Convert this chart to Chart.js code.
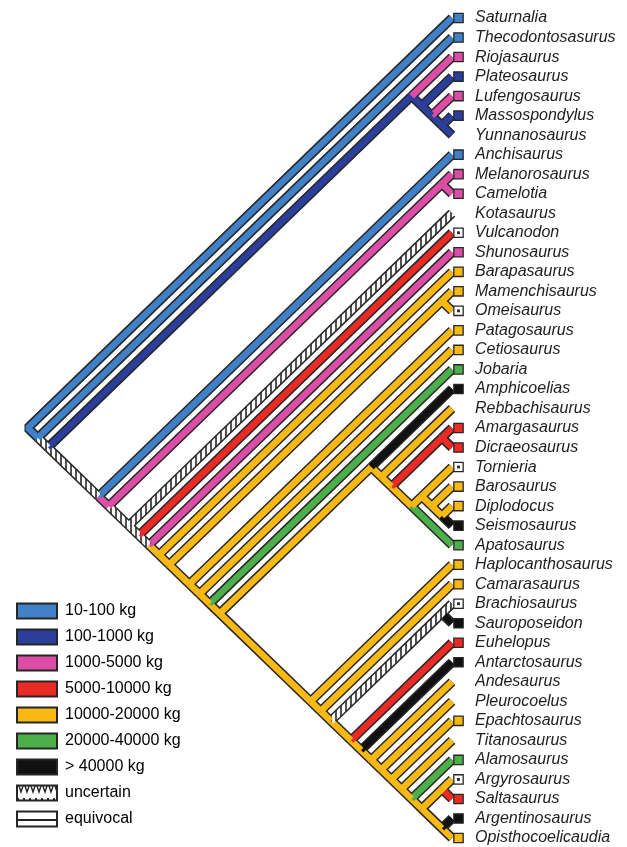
<!DOCTYPE html>
<html lang="en">
<head>
  <meta charset="UTF-8">
  <title>Sauropodomorph body mass</title>
  <script src="https://cdn.jsdelivr.net/npm/chart.js"></script>
  <style>
    html, body { margin: 0; padding: 0; background: #fff; }
    #box { width: 627px; height: 847px; }
  </style>
</head>
<body>
<div id="box"><canvas id="tree"></canvas></div>
<script>
  const taxa = ['Saturnalia', 'Thecodontosasurus', 'Riojasaurus', 'Plateosaurus', 'Lufengosaurus',
    'Massospondylus', 'Yunnanosaurus', 'Anchisaurus', 'Melanorosaurus', 'Camelotia', 'Kotasaurus',
    'Vulcanodon', 'Shunosaurus', 'Barapasaurus', 'Mamenchisaurus', 'Omeisaurus', 'Patagosaurus',
    'Cetiosaurus', 'Jobaria', 'Amphicoelias', 'Rebbachisaurus', 'Amargasaurus', 'Dicraeosaurus',
    'Tornieria', 'Barosaurus', 'Diplodocus', 'Seismosaurus', 'Apatosaurus', 'Haplocanthosaurus',
    'Camarasaurus', 'Brachiosaurus', 'Sauroposeidon', 'Euhelopus', 'Antarctosaurus', 'Andesaurus',
    'Pleurocoelus', 'Epachtosaurus', 'Titanosaurus', 'Alamosaurus', 'Argyrosaurus', 'Saltasaurus',
    'Argentinosaurus', 'Opisthocoelicaudia'];

  // mass class of each terminal box (index into massLabels), 'u' = no data, null = no box
  const leafState = [0, 0, 2, 1, 2, 1, null, 0, 2, 2, null, 'u', 2, 4, 4, 'u', 4, 4, 5, 6, null,
    3, 3, 'u', 4, 4, 6, 5, 4, 4, 'u', 6, 3, 6, null, null, 4, null, 5, 'u', 3, 6, 4];

  const massLabels = ['10-100 kg', '100-1000 kg', '1000-5000 kg', '5000-10000 kg',
    '10000-20000 kg', '20000-40000 kg', '> 40000 kg'];
  const massColors = ['#3f80c7', '#2b3e9c', '#dc4ea6', '#ea2a24', '#f9b914', '#4caf49', '#111111'];

  // internal nodes: [first leaf, last leaf of upper clade, last leaf, upper branch, lower branch]
  // branch state: mass class, or 'u' for uncertain
  const nodes = [
    [0, 0, 42, 0, 0], [1, 1, 42, 0, 'u'], [2, 6, 42, 1, 'u'],
    [2, 2, 6, 2, 1], [3, 3, 6, 1, 1], [4, 4, 6, 2, 1], [5, 5, 6, 1, 1],
    [7, 7, 42, 0, 2], [8, 9, 42, 2, 'u'], [8, 8, 9, 2, 2],
    [10, 10, 42, 'u', 'u'], [11, 11, 42, 3, 'u'], [12, 12, 42, 2, 4], [13, 13, 42, 4, 4],
    [14, 15, 42, 4, 4], [14, 14, 15, 4, 4], [16, 16, 42, 4, 4], [17, 17, 42, 4, 4],
    [18, 18, 42, 5, 4], [19, 27, 42, 4, 4],
    [19, 19, 27, 6, 4], [20, 20, 27, 4, 4], [21, 22, 27, 3, 4], [21, 21, 22, 3, 3],
    [23, 26, 27, 4, 5], [23, 23, 26, 4, 4], [24, 24, 26, 4, 4], [25, 25, 26, 4, 6],
    [28, 28, 42, 4, 4], [29, 29, 42, 4, 4], [30, 31, 42, 'u', 4], [30, 30, 31, 'u', 6],
    [32, 32, 42, 3, 4], [33, 33, 42, 6, 4], [34, 34, 42, 4, 4], [35, 35, 42, 4, 4],
    [36, 36, 42, 4, 4], [37, 37, 42, 4, 4], [38, 38, 42, 5, 4], [39, 40, 42, 4, 4],
    [39, 39, 40, 4, 3], [41, 41, 42, 6, 4]
  ];

  const ROW = 820 / 42;   // px between terminals
  const PX = 20.2;        // px per unit of depth
  const LEAF = 452, LEFT = 7, RIGHT = 475, TOP = 1;
  const FONT = "'Liberation Sans', Arial, sans-serif";
  const INK = '#262626';

  const canvas = document.getElementById('tree');
  const ctx = canvas.getContext('2d');

  function makePattern(w, h, draw) {
    const c = document.createElement('canvas');
    c.width = w; c.height = h;
    const g = c.getContext('2d');
    g.fillStyle = '#fff';
    g.fillRect(0, 0, w, h);
    g.strokeStyle = INK;
    draw(g);
    return ctx.createPattern(c, 'repeat');
  }
  const hatch = makePattern(5, 5, g => {
    g.lineWidth = 1.6; g.beginPath(); g.moveTo(1, 0); g.lineTo(1, 5); g.stroke();
  });
  const zigzag = makePattern(6, 15, g => {
    g.lineWidth = 1.4; g.beginPath(); g.moveTo(0, 3); g.lineTo(3, 12); g.lineTo(6, 3); g.stroke();
  });
  const stripes = makePattern(4, 15, g => {
    g.lineWidth = 2; g.beginPath(); g.moveTo(0, 10); g.lineTo(4, 10); g.stroke();
  });

  const pos = (a, b) => ({ x: -(b - a) / 2, y: (a + b) / 2 });
  const paint = s => s === 'u' ? hatch : massColors[s];

  const outlines = [], fills = [];
  function branch(pts, state, join) {
    const base = { data: pts, showLine: true, pointRadius: 0, fill: false, clip: false,
      borderCapStyle: 'butt', borderJoinStyle: join };
    outlines.push({ ...base, borderColor: INK, borderWidth: 9.5, order: 3 });
    fills.push({ ...base, borderColor: paint(state), borderWidth: 6.5, order: 2 });
  }
  nodes.forEach(([a, m, b, up, low], k) => {
    const p = pos(a, b), u = pos(a, m), l = pos(m + 1, b);
    if (k === 0) {
      branch([u, p, l], up, 'bevel');
    } else {
      branch([p, u], up, 'miter');
      branch([p, l], low, 'miter');
    }
  });

  const BOX_X = 6.5 / PX;
  const boxed = leafState.map((s, i) => ({ s, i })).filter(d => d.s !== null);
  const boxSet = {
    data: boxed.map(d => ({ x: BOX_X, y: d.i })),
    pointStyle: 'rect', pointRadius: 6.6, clip: false, order: 1,
    pointBackgroundColor: boxed.map(d => d.s === 'u' ? '#fff' : massColors[d.s]),
    pointBorderColor: INK, pointBorderWidth: 1.3
  };
  const dotSet = {
    data: boxed.filter(d => d.s === 'u').map(d => ({ x: BOX_X, y: d.i })),
    pointStyle: 'rect', pointRadius: 2, clip: false, order: 0,
    pointBackgroundColor: INK, pointBorderWidth: 0
  };

  const legendItems = massLabels.map((t, i) => ({
    text: t, fillStyle: massColors[i], strokeStyle: INK, lineWidth: 2, hidden: false
  })).concat([
    { text: 'uncertain', fillStyle: zigzag, strokeStyle: INK, lineWidth: 2, hidden: false },
    { text: 'equivocal', fillStyle: stripes, strokeStyle: INK, lineWidth: 2, hidden: false }
  ]);

  new Chart(ctx, {
    type: 'scatter',
    data: { datasets: [...outlines, ...fills, boxSet, dotSet] },
    options: {
      responsive: true,
      maintainAspectRatio: false,
      animation: false,
      events: [],
      layout: { autoPadding: false, padding: { left: LEFT, top: TOP, right: 0, bottom: 9 } },
      scales: {
        x: { type: 'linear', display: false, min: -(LEAF - LEFT) / PX, max: (RIGHT - LEAF) / PX },
        y: {
          type: 'linear', position: 'right', reverse: true, min: (TOP - 18) / ROW, max: 42,
          grid: { display: false, drawTicks: false },
          border: { display: false },
          afterFit: s => { s.width = 627 - RIGHT; },
          afterBuildTicks: s => { s.ticks = taxa.map((t, i) => ({ value: i })); },
          ticks: {
            padding: 0, autoSkip: false, color: '#1e1e1e',
            font: { family: FONT, size: 16, style: 'italic', lineHeight: '1px' },
            callback: v => taxa[v]
          }
        }
      },
      plugins: {
        tooltip: { enabled: false },
        legend: {
          position: 'chartArea',
          align: 'end',
          onClick: null,
          labels: {
            boxWidth: 40, boxHeight: 15, padding: 10, color: '#1e1e1e',
            font: { family: FONT, size: 16 },
            generateLabels: () => legendItems
          }
        }
      }
    }
  });
</script>
</body>
</html>
